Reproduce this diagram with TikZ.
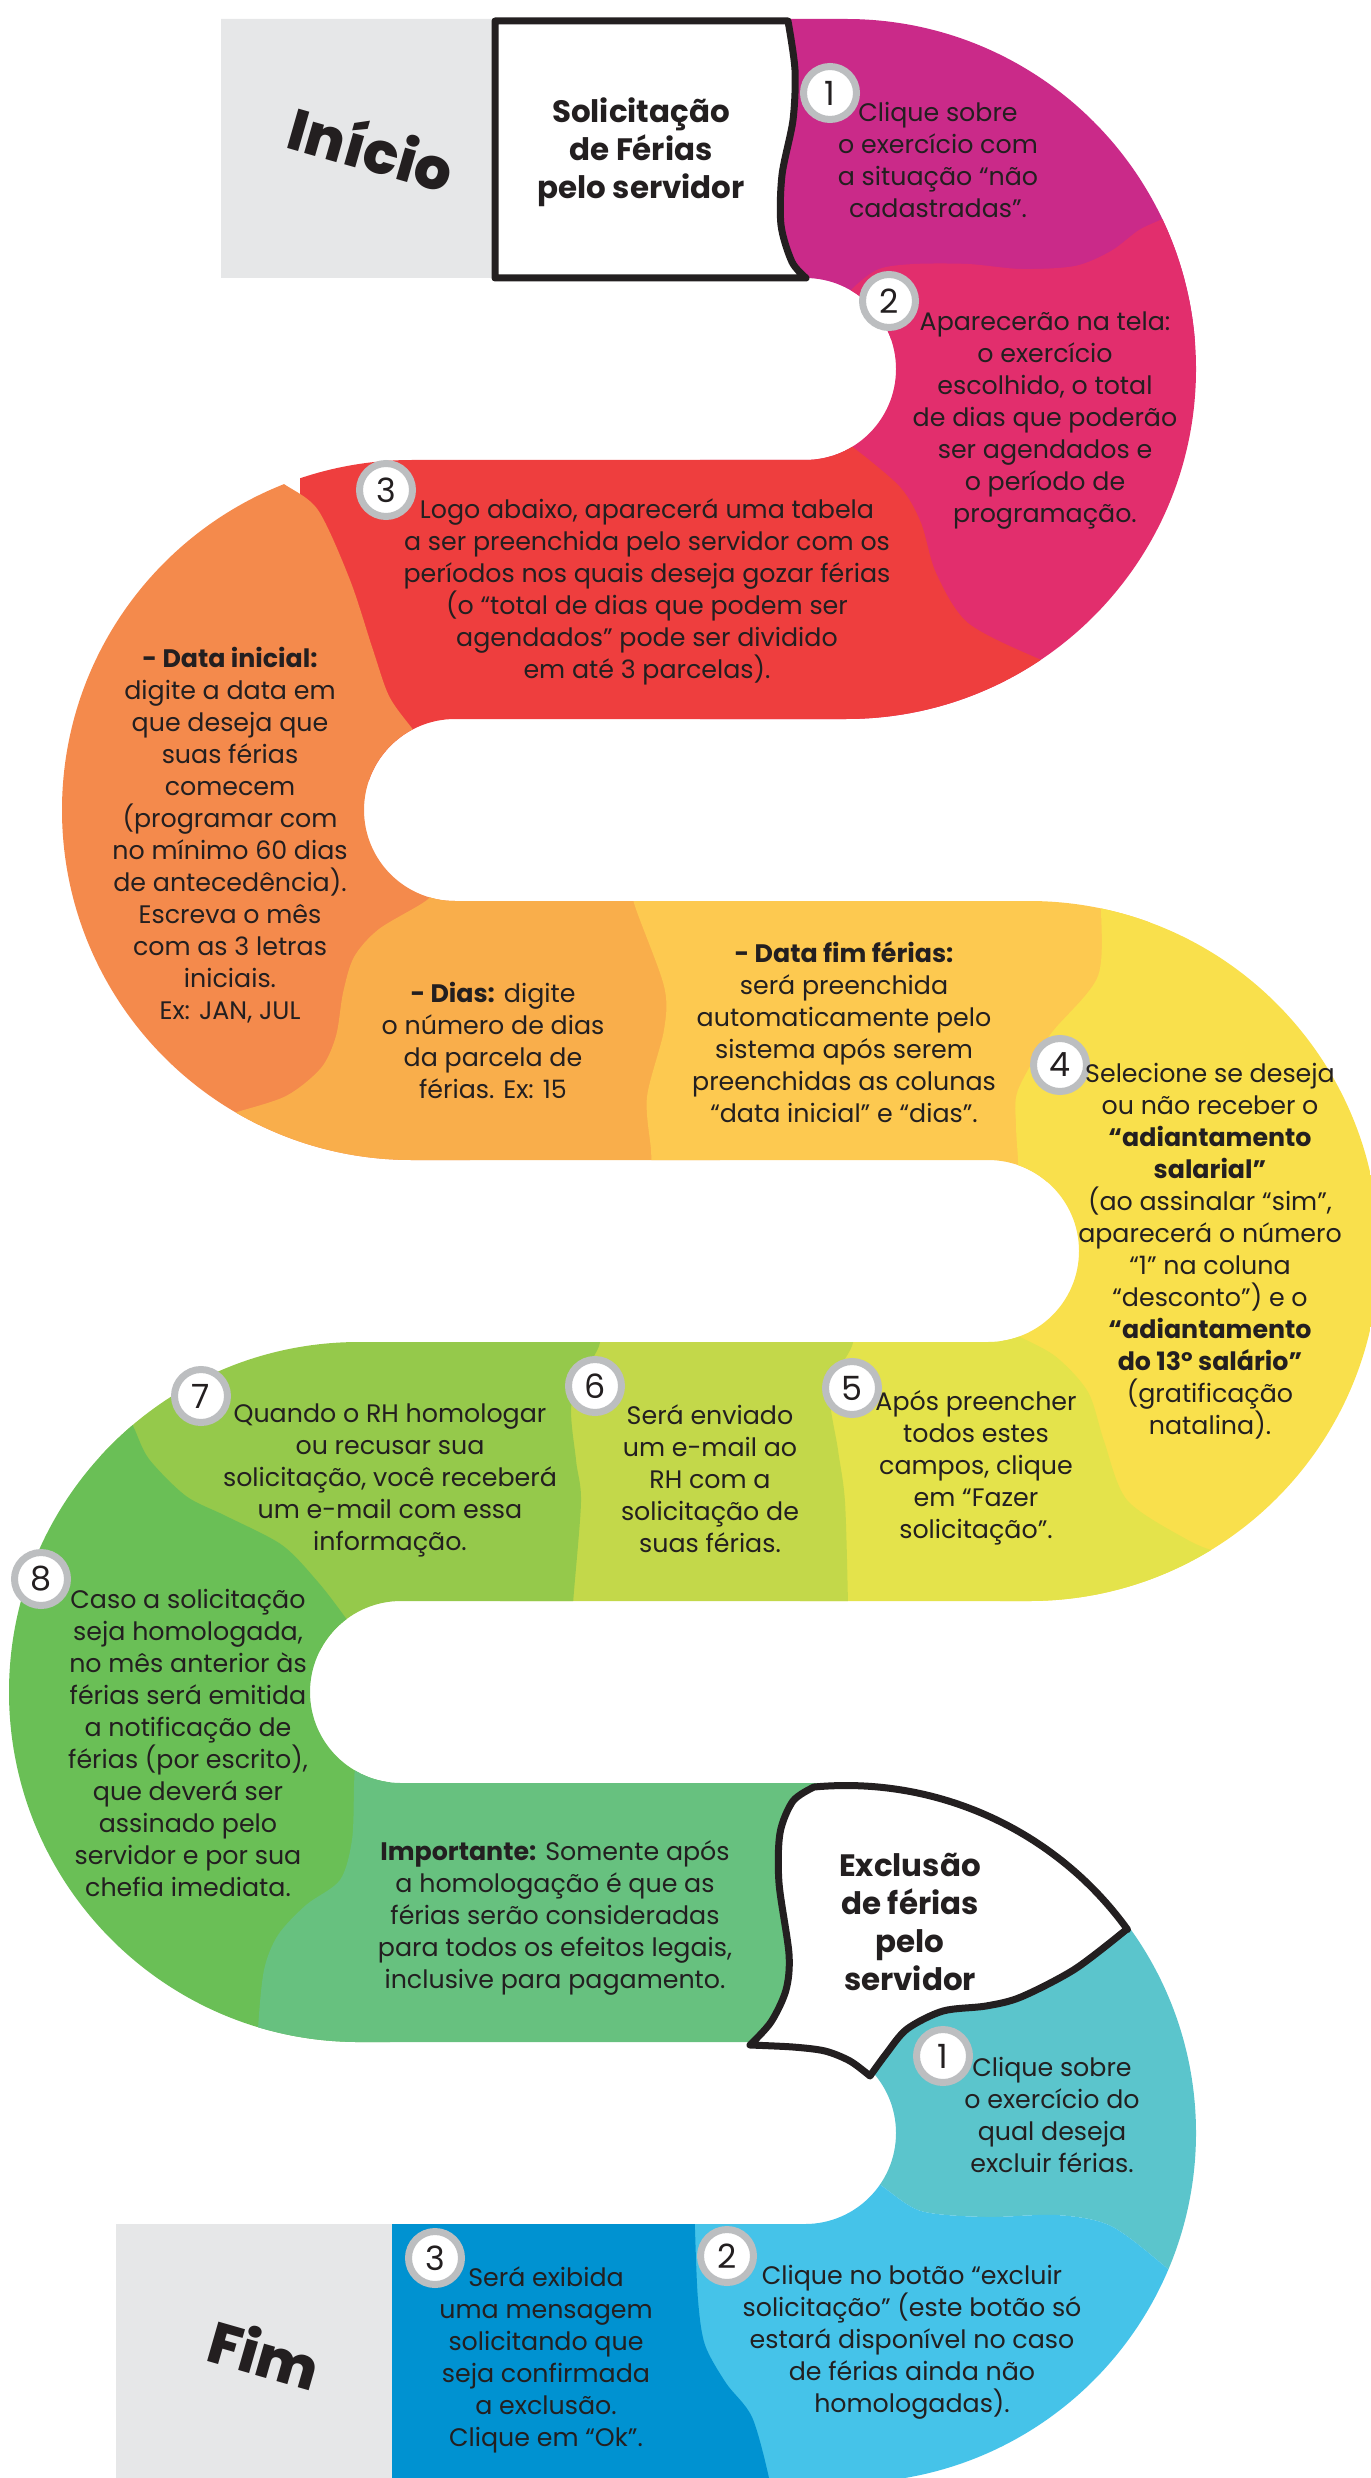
\documentclass[tikz,border=0pt]{standalone}
\usepackage{fontspec}
\setmainfont{Poppins}
\newfontfamily\heavyfont{Poppins ExtraBold}
\definecolor{ink}{HTML}{231F20}
\definecolor{ring}{HTML}{BCBEC0}
\definecolor{cGray}{HTML}{E6E7E8}
\definecolor{cMag}{HTML}{CA2A89}
\definecolor{cPink}{HTML}{E22E6D}
\definecolor{cRed}{HTML}{EE3E3E}
\definecolor{cOrange}{HTML}{F48A4C}
\definecolor{cLtOrange}{HTML}{F9AE4B}
\definecolor{cYelOrange}{HTML}{FDC950}
\definecolor{cYellow}{HTML}{F9E04C}
\definecolor{cYelGreen}{HTML}{E4E34B}
\definecolor{cLime}{HTML}{C3D84A}
\definecolor{cLtGreen}{HTML}{95C94B}
\definecolor{cGreen}{HTML}{6ABF56}
\definecolor{cMint}{HTML}{67C17F}
\definecolor{cTeal}{HTML}{5BC5CC}
\definecolor{cLtBlue}{HTML}{45C3E9}
\definecolor{cDkBlue}{HTML}{0092D1}
% the snake-shaped band
\newcommand{\bandshape}{(221,19) -- (846,19) arc[start angle=-90, end angle=90, radius=350]
  -- (455,719) arc[start angle=-90, end angle=-270, radius=91]
  -- (1029,901) arc[start angle=-90, end angle=90, radius=350]
  -- (401,1601) arc[start angle=-90, end angle=-270, radius=91]
  -- (846,1783) arc[start angle=-90, end angle=80.3, radius=350]
  -- (116,2478) -- (116,2224)
  -- (805,2224) arc[start angle=90, end angle=-90, radius=91]
  -- (359,2042) arc[start angle=90, end angle=270, radius=350]
  -- (988,1342) arc[start angle=90, end angle=-90, radius=91]
  -- (412,1160) arc[start angle=90, end angle=270, radius=350]
  -- (805,460) arc[start angle=90, end angle=-90, radius=91]
  -- (221,278) -- cycle}

\begin{document}
\begin{tikzpicture}[x=0.1mm, y=-0.1mm,
    txt/.style={align=center, text=ink, inner sep=0pt, font=\fontsize{7.2}{9.1}\selectfont},
    ttl/.style={align=center, text=ink, inner sep=0pt, font=\fontsize{8.8}{10.8}\selectfont\bfseries},
    num/.style={circle, fill=white, draw=ring, line width=0.7mm, minimum size=5.3mm, inner sep=0pt, text=ink, font=\fontsize{9.5}{9.5}\selectfont},
    boxline/.style={draw=ink, line width=0.7mm, fill=white, line join=round},
    bigword/.style={text=ink, inner sep=0pt, rotate=-16, font=\fontsize{16.5}{16.5}\heavyfont}
  ]
\useasboundingbox (0,0) rectangle (1371,2478);

\begin{scope}
\clip \bandshape;
\fill[cGray] (200,0) rectangle (496,300);
\fill[cMag] (496,0) rectangle (1300,340);
\fill[cPink] (1300,150) -- plot[smooth] coordinates {(1185,205) (1162,219) (1139,230) (1111,251) (1075,266) (1021,269) (968,264) (914,264) (879,269) (854,287) (835,310)} -- (800,340) -- (700,420) -- (700,780) -- (1300,780) -- cycle;
\fill[cRed] (300,420) -- (820,420) -- plot[smooth] coordinates {(840,440) (854,448) (900,487) (921,523) (936,573) (968,623) (1039,659) (1080,672)} -- (1100,780) -- (300,780) -- cycle;
\fill[cOrange] (0,420) -- (250,420) -- plot[smooth] coordinates {(265,470) (284,484) (318,510) (350,580) (373,650) (389,696) (411,727) (430,750)} -- (470,790) -- (470,1250) -- (0,1250) -- cycle;
\fill[cLtOrange] (480,860) -- plot[smooth] coordinates {(440,880) (427,900) (379,929) (354,957) (343,993) (336,1036) (321,1068) (286,1096) (234,1113) (200,1125)} -- (180,1250) -- (720,1250) -- (720,860) -- cycle;
\fill[cYelOrange] (634,870) -- plot[smooth] coordinates {(634,880) (634,903) (664,986) (664,1030) (647,1097) (651,1150) (652,1180)} -- (652,1200) -- (990,1200) -- (1150,1150) -- (1150,870) -- cycle;
\fill[cYellow] (1110,860) -- plot[smooth] coordinates {(1105,880) (1101,900) (1098,976) (1050,1035) (1018,1090) (1016,1125) (1018,1160) (1018,1180)} -- (1000,1250) -- (1000,1650) -- (1400,1650) -- (1400,860) -- cycle;
\fill[cYelGreen] (800,1300) -- (960,1300) -- plot[smooth] coordinates {(1000,1320) (1013,1333) (1055,1356) (1088,1392) (1104,1441) (1127,1500) (1186,1539) (1218,1552) (1260,1560)} -- (1300,1650) -- (800,1650) -- cycle;
\fill[cLime] (500,1300) -- (855,1300) -- plot[smooth] coordinates {(855,1320) (852,1346) (830,1390) (838,1450) (845,1502) (848,1604) (848,1630)} -- (848,1650) -- (500,1650) -- cycle;
\fill[cLtGreen] (100,1300) -- (600,1300) -- plot[smooth] coordinates {(600,1320) (599,1346) (572,1400) (576,1460) (581,1502) (573,1604) (573,1630)} -- (573,1650) -- (100,1650) -- cycle;
\fill[cGreen] (0,1380) -- plot[smooth] coordinates {(120,1400) (134,1428) (149,1459) (186,1496) (226,1516) (282,1545) (318,1582) (345,1617) (360,1640)} -- (390,1700) -- (390,2100) -- (0,2100) -- cycle;
\fill[cMint] (340,1740) -- plot[smooth] coordinates {(355,1760) (354,1787) (352,1840) (340,1880) (306,1905) (278,1935) (264,1970) (258,2029) (258,2070)} -- (258,2100) -- (820,2100) -- (820,1740) -- cycle;
\fill[cTeal] (830,1740) -- (1400,1740) -- (1400,2300) -- plot[smooth] coordinates {(1200,2300) (1168,2269) (1111,2226) (1057,2215) (986,2217) (921,2211) (882,2186) (860,2170)} -- (830,2100) -- cycle;
\fill[cLtBlue] (860,2150) -- plot[smooth] coordinates {(860,2170) (882,2186) (921,2211) (986,2217) (1057,2215) (1111,2226) (1168,2269) (1200,2300)} -- (1400,2300) -- (1400,2500) -- (650,2500) -- (650,2200) -- cycle;
\fill[cDkBlue] (392,2200) -- (695,2200) -- plot[smooth] coordinates {(695,2215) (695,2230) (698,2300) (705,2345) (726,2383) (752,2417) (769,2478) (770,2500)} -- (392,2500) -- cycle;
\fill[cGray] (100,2200) rectangle (392,2500);
\end{scope}

% start and exclusion boxes
\draw[boxline] (495,21) -- plot[smooth] coordinates {(788,21) (795,70) (793,120) (782,175) (781,225) (792,262) (806,278)} -- (495,278) -- cycle;
\draw[boxline] (814,1787) arc[start angle=-95.3, end angle=-35.8, radius=347]
  -- plot[smooth] coordinates {(1127,1929) (1075,1969) (1021,1997) (986,2006) (943,2011) (907,2029) (886,2054) (870,2076)}
  -- plot[smooth] coordinates {(870,2076) (850,2061) (825,2051) (793,2047) (750,2045)}
  -- plot[smooth] coordinates {(750,2045) (771,2022) (786,1990) (789,1954) (779,1883) (780,1833) (793,1801) (814,1787)} -- cycle;

\node[bigword] (inicio) at (372,147) {Início};
\node[bigword] (fim) at (265,2353) {Fim};
\node[ttl] (solic) at (641,152) {Solicitação\\de Férias\\pelo servidor};
\node[ttl] (exclu) at (910,1922) {Exclusão\\de férias\\pelo\\servidor};

\node[num] (n1) at (830,93) {1};
\node[num] (n2) at (889,301) {2};
\node[num] (n3) at (386,490) {3};
\node[num] (n4) at (1060,1065) {4};
\node[num] (n5) at (852,1388) {5};
\node[num] (n6) at (595,1386) {6};
\node[num] (n7) at (201,1396) {7};
\node[num] (n8) at (41,1579) {8};
\node[num] (e1) at (943,2056) {1};
\node[num] (e2) at (727,2256) {2};
\node[num] (e3) at (435,2258) {3};

\node[txt] (t1) at (938,160) {Clique sobre\\o exercício com\\a situação “não\\cadastradas”.};
\node[txt] (t2) at (1045,421) {Aparecerão na tela:\\o exercício\\escolhido, o total\\de dias que poderão\\ser agendados e\\o período de\\programação.};
\node[txt] (t3) at (647,592) {Logo abaixo, aparecerá uma tabela\\a ser preenchida pelo servidor com os\\períodos nos quais deseja gozar férias\\(o “total de dias que podem ser\\agendados” pode ser dividido\\em até 3 parcelas).};
\node[txt] (tini) at (230,835) {\textbf{- Data inicial:}\\digite a data em\\que deseja que\\suas férias\\comecem\\(programar com\\no mínimo 60 dias\\de antecedência).\\Escreva o mês\\com as 3 letras\\iniciais.\\Ex: JAN, JUL};
\node[txt] (tdias) at (493,1040) {\textbf{- Dias:} digite\\o número de dias\\da parcela de\\férias. Ex: 15};
\node[txt] (tfim) at (844,1032) {\textbf{- Data fim férias:}\\será preenchida\\automaticamente pelo\\sistema após serem\\preenchidas as colunas\\“data inicial” e “dias”.};
\node[txt] (t4) at (1210,1251) {Selecione se deseja\\ou não receber o\\\textbf{“adiantamento}\\\textbf{salarial”}\\(ao assinalar “sim”,\\aparecerá o número\\“1” na coluna\\“desconto”) e o\\\textbf{“adiantamento}\\\textbf{do 13º salário”}\\(gratificação\\natalina).};
\node[txt] (t5) at (976,1468) {Após preencher\\todos estes\\campos, clique\\em “Fazer\\solicitação”.};
\node[txt] (t6) at (710,1479) {Será enviado\\um e-mail ao\\RH com a\\solicitação de\\suas férias.};
\node[txt] (t7) at (390,1480) {Quando o RH homologar\\ou recusar sua\\solicitação, você receberá\\um e-mail com essa\\informação.};
\node[txt] (t8) at (188,1743) {Caso a solicitação\\seja homologada,\\no mês anterior às\\férias será emitida\\a notificação de\\férias (por escrito),\\que deverá ser\\assinado pelo\\servidor e por sua\\chefia imediata.};
\node[txt] (timp) at (555,1918) {\textbf{Importante:} Somente após\\a homologação é que as\\férias serão consideradas\\para todos os efeitos legais,\\inclusive para pagamento.};
\node[txt] (te1) at (1052,2115) {Clique sobre\\o exercício do\\qual deseja\\excluir férias.};
\node[txt] (te2) at (912,2342) {Clique no botão “excluir\\solicitação” (este botão só\\estará disponível no caso\\de férias ainda não\\homologadas).};
\node[txt] (te3) at (546,2360) {Será exibida\\uma mensagem\\solicitando que\\seja confirmada\\a exclusão.\\Clique em “Ok”.};
\end{tikzpicture}
\end{document}
